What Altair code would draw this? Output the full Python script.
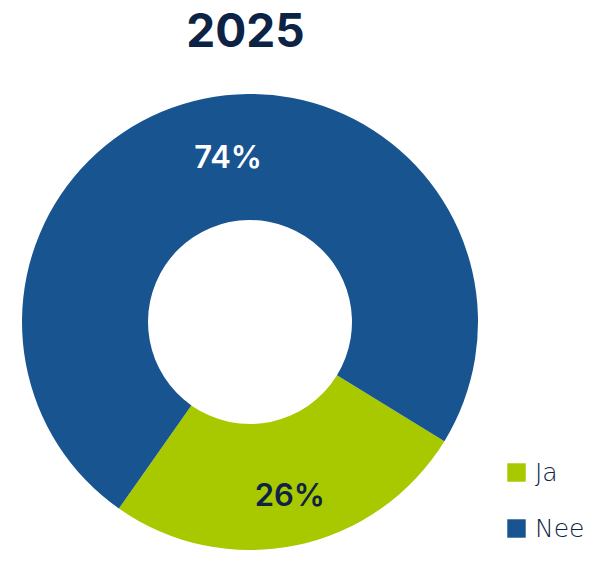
import altair as alt
import pandas as pd
import math

categories = ["Ja", "Nee"]
values = [26, 74]
labels = ["26%", "74%"]
order = [0, 1]

df = pd.DataFrame({"cat": categories, "val": values, "label": labels, "ord": order})

start = 121.5 * math.pi / 180
theta_scale = alt.Scale(range=[start, start + 2 * math.pi])
color_scale = alt.Scale(domain=["Ja", "Nee"], range=["#a8c800", "#18548f"])

base = alt.Chart(df).encode(
    theta=alt.Theta("val:Q", stack=True, scale=theta_scale),
    order=alt.Order("ord:Q"),
    x=alt.value(242),
    y=alt.value(314),
)

arcs = base.mark_arc(outerRadius=228, innerRadius=102).encode(
    color=alt.Color(
        "cat:N",
        scale=color_scale,
        sort=categories,
        legend=alt.Legend(
            title=None,
            orient="none",
            legendX=496,
            legendY=452,
            symbolType="square",
            symbolSize=340,
            symbolStrokeWidth=0,
            labelFontSize=25,
            labelFont="DejaVu Sans",
            labelFontWeight=200,
            labelColor="#0d2346",
            labelOffset=6,
            rowPadding=30,
        ),
    )
)

text_ja = base.mark_text(radius=179, thetaOffset=-0.02, font="Inter", fontSize=31, fontWeight=600, color="#0d2346").encode(
    text=alt.condition(alt.datum.cat == "Ja", alt.Text("label:N"), alt.value("")),
)
text_nee = base.mark_text(radius=164, thetaOffset=0.07, font="Inter", fontSize=31, fontWeight=600, color="#ffffff").encode(
    text=alt.condition(alt.datum.cat == "Nee", alt.Text("label:N"), alt.value("")),
)

chart = (arcs + text_ja + text_nee).properties(
    width=589,
    height=548,
    autosize=alt.AutoSizeParams(type="none"),
    padding=0,
    title=alt.TitleParams(
        text="2025",
        font="Inter",
        fontSize=46,
        fontWeight="bold",
        color="#0d2346",
        anchor="middle",
        dx=-57,
        dy=3,
        offset=-46,
    ),
).configure_view(stroke=None)

chart.save("out.html", embed_options={"renderer": "svg", "actions": False})
